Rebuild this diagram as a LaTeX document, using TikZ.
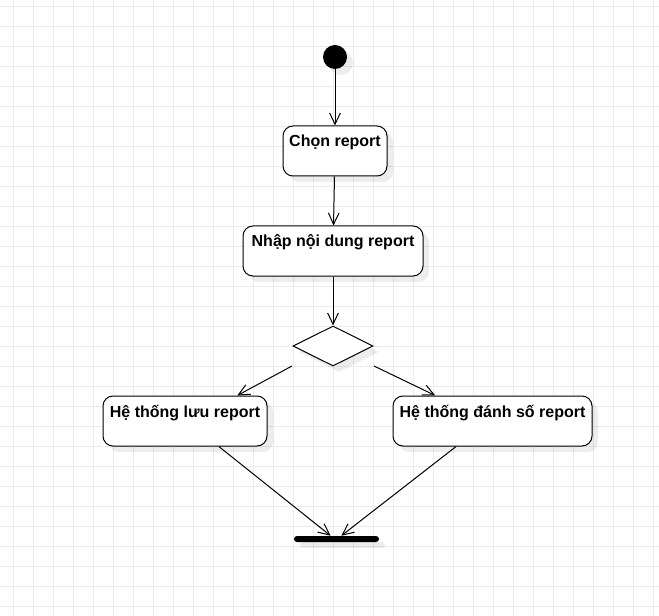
\documentclass[tikz,border=0pt]{standalone}
\usepackage{fontspec}
\setmainfont{Liberation Sans}
\usetikzlibrary{positioning,shapes.geometric,arrows.meta,shadows}

\tikzset{
  shade/.style={drop shadow={shadow xshift=4.5pt, shadow yshift=-4.5pt, fill=black, opacity=0.07}},
  act/.style={draw, shade, fill=white, rounded corners=7.5pt, line width=0.75pt,
    inner xsep=0pt, inner ysep=0pt, text height=15.75pt, text depth=21.75pt,
    font=\bfseries\fontsize{12}{14}\selectfont},
  flow/.style={line width=0.75pt, -{Straight Barb[length=8.5pt, width=8pt]}},
}

\begin{document}
\begin{tikzpicture}[x=0.75pt, y=-0.75pt]
  \useasboundingbox[fill=white] (0,0) rectangle (659,616);
  % grid
  \foreach \gx in {0,...,32} \draw[black!8, line width=0.75pt] (13+20*\gx, 0) -- (13+20*\gx, 616);
  \foreach \gy in {0,...,30} \draw[black!8, line width=0.75pt] (0, 6.5+20*\gy) -- (659, 6.5+20*\gy);

  \node[circle, fill=black, shade, minimum size=18pt, inner sep=0pt] (start) at (335,57) {};
  \node[act, minimum width=78pt] (chon) at (335,151) {Chọn report};
  \node[act, minimum width=135pt] (nhap) at (333,251) {Nhập nội dung report};
  \node[diamond, draw, shade, fill=white, line width=0.75pt, minimum width=60pt, minimum height=30pt, inner sep=0pt] (dec) at (333,346) {};
  \node[act, minimum width=123pt] (luu) at (185,421) {Hệ thống lưu report};
  \node[act, minimum width=149.25pt] (danh) at (492.5,421) {Hệ thống đánh số report};
  \node[rectangle, fill=black, shade, rounded corners=2.25pt, minimum width=63.75pt, minimum height=4.5pt, inner sep=0pt] (join) at (336.5,539) {};

  \coordinate (decL) at (292,366);
  \coordinate (decR) at (374,366);

  \draw[flow] (start) -- (chon);
  \draw[flow] (chon) -- (nhap);
  \draw[flow] (nhap) -- (dec);
  \draw[flow] (decL) -- (luu.26);
  \draw[flow] (decR) -- (danh.156);
  \draw[flow] (luu.-37) -- (join.151);
  \draw[flow] (danh.-145) -- (join.34);
\end{tikzpicture}
\end{document}
